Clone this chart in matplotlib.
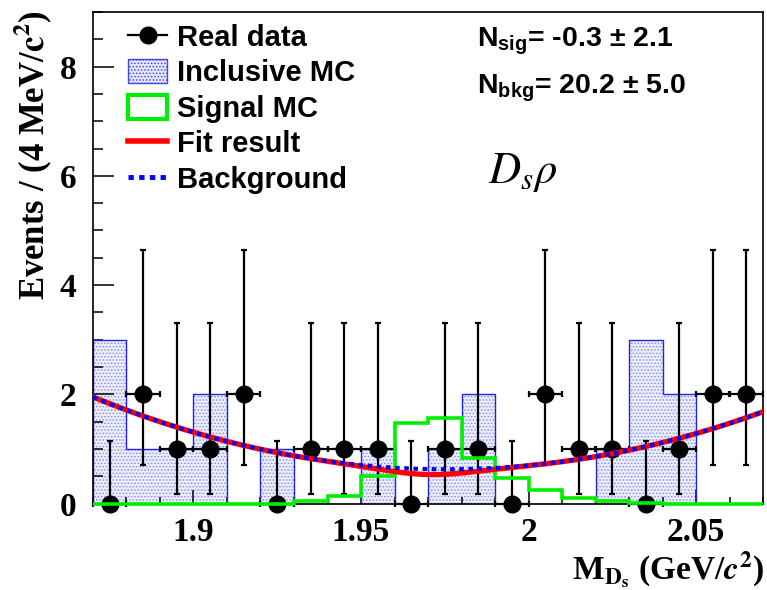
import numpy as np
import matplotlib
matplotlib.use('Agg')
import matplotlib.pyplot as plt
from matplotlib.lines import Line2D
from matplotlib.patches import Patch

# Бины по массе D_s (GeV/c^2)
bin_edges = np.round(np.arange(1.87, 2.0701, 0.01), 3)
bin_centers = (bin_edges[:-1] + bin_edges[1:]) / 2

# Реальные данные
data_counts = [0, 2, 1, 1, 2, 0, 1, 1, 1, 0, 1, 1, 0, 2, 1, 1, 0, 1, 2, 2]
# Пуассоновские ошибки (вниз, вверх) для 0, 1, 2 событий
poisson_err = {0: (0.0, 1.148), 1: (0.827, 2.300), 2: (1.292, 2.638)}

# Inclusive MC
inclusive_mc = [3, 1, 1, 2, 0, 1, 0, 0, 1, 0, 1, 2, 0, 0, 0, 1, 3, 2, 0, 0]

# Signal MC
signal_mc = [0, 0, 0, 0, 0, 0, 0.05, 0.13, 0.5, 1.47, 1.57, 0.84, 0.46, 0.24,
             0.1, 0.04, 0.01, 0, 0, 0]

# Фон: полином второй степени по t = (m - 1.97) / 0.1
bkg_coefs = [0.63, -0.135, 1.185]
n_sig = -0.3
sig_mean, sig_sigma = 1.97, 0.012

x_ticks = [1.9, 1.95, 2.0, 2.05]
x_tick_labels = ['1.9', '1.95', '2', '2.05']
y_ticks = [0, 2, 4, 6, 8]

plt.rcParams['mathtext.fontset'] = 'custom'
plt.rcParams['mathtext.rm'] = 'Liberation Sans:bold'
plt.rcParams['mathtext.bf'] = 'Liberation Sans:bold'
plt.rcParams['mathtext.it'] = 'Liberation Sans:italic:bold'
plt.rcParams['hatch.linewidth'] = 0.7

fig = plt.figure(figsize=(7.67, 5.90), dpi=100)
ax = fig.add_axes([93 / 767, 1 - 503.5 / 590, 670 / 767, 491.5 / 590])

# Inclusive MC: заливка точками + контур
ax.stairs(inclusive_mc, bin_edges, fill=True, facecolor='#eceefb',
          edgecolor='#8a90ee', hatch='.....', linewidth=0, zorder=1)
ax.stairs(inclusive_mc, bin_edges, color='#2020f0', linewidth=1.0,
          baseline=0, zorder=2)

# Данные с ошибками
err_lo = [poisson_err[c][0] for c in data_counts]
err_hi = [poisson_err[c][1] for c in data_counts]
ax.errorbar(bin_centers, data_counts, yerr=[err_lo, err_hi], xerr=0.005,
            fmt='o', color='black', markersize=12, elinewidth=1.6,
            capsize=2.5, capthick=1.6, zorder=3, clip_on=False)

# Signal MC
ax.stairs(signal_mc, bin_edges, color='#00ee00', linewidth=2.6,
          baseline=None, zorder=4, clip_on=False)

# Результат фита и фон
m = np.linspace(bin_edges[0], bin_edges[-1], 500)
t = (m - 1.97) / 0.1
bkg = bkg_coefs[0] + bkg_coefs[1] * t + bkg_coefs[2] * t ** 2
sig = n_sig * 0.01 / (np.sqrt(2 * np.pi) * sig_sigma) * \
    np.exp(-0.5 * ((m - sig_mean) / sig_sigma) ** 2)
ax.plot(m, bkg + sig, color='red', linewidth=3.8, zorder=5)
ax.plot(m, bkg, color='#0000ff', linewidth=3.0, dashes=(1.1, 1.1), zorder=6)

ax.set_xlim(bin_edges[0], bin_edges[-1])
ax.set_ylim(0, 9)

ax.set_xticks(x_ticks)
ax.set_xticklabels(x_tick_labels)
ax.set_xticks(bin_edges, minor=True)
ax.set_yticks(y_ticks)
ax.set_yticks(np.arange(0, 9.01, 0.5), minor=True)

ax.tick_params(which='both', direction='in', top=False, right=False,
               width=1.1, labelsize=24)
ax.tick_params(axis='x', which='major', length=10, pad=10)
ax.tick_params(axis='x', which='minor', length=5)
ax.tick_params(axis='y', which='major', length=15, pad=12)
ax.tick_params(axis='y', which='minor', length=7.5)
for lab in ax.get_xticklabels() + ax.get_yticklabels():
    lab.set_fontfamily('Liberation Serif')
    lab.set_fontweight('bold')
for sp in ax.spines.values():
    sp.set_linewidth(1.2)

# Подписи осей
fig.text(33 / 767, 1 - 10 / 590, r'Events / (4 MeV/$\mathbf{c^{2}}$)',
         rotation=90, ha='center', va='top', fontsize=25,
         fontfamily='Liberation Serif', fontweight='bold', math_fontfamily='stix')
fig.text(764 / 767, 1 - 580 / 590, r'M$_{\mathbf{D_s}}$ (GeV/$\mathbfit{c}^{\mathbf{2}}$)',
         ha='right', va='baseline', fontsize=24,
         fontfamily='Liberation Serif', fontweight='bold', math_fontfamily='stix')

# Легенда
handles = [
    Line2D([], [], color='black', marker='o', markersize=12, linewidth=1.6),
    Patch(facecolor='#e4e7fa', edgecolor='#4048f0', hatch='.....', linewidth=1),
    Patch(facecolor='white', edgecolor='#00ee00', linewidth=3),
    Line2D([], [], color='red', linewidth=4),
    Line2D([], [], color='#0000ff', linewidth=3.5, dashes=(1.1, 1.1)),
]
labels = ['Real data', 'Inclusive MC', 'Signal MC', 'Fit result', 'Background']
ax.legend(handles, labels, loc='upper left', bbox_to_anchor=(0.052, 0.976),
          frameon=False, borderpad=0, borderaxespad=0, handlelength=1.35,
          handleheight=0.9, handletextpad=0.35, labelspacing=0.25,
          prop={'family': 'Liberation Sans', 'weight': 'bold', 'size': 21})

# Результаты фита
ax.text(0.573, 0.929, r'N$_{\mathbf{sig}}$= -0.3 ± 2.1', transform=ax.transAxes,
        ha='left', va='baseline', fontsize=20.5, fontfamily='Liberation Sans',
        fontweight='bold')
ax.text(0.573, 0.835, r'N$_{\mathbf{bkg}}$= 20.2 ± 5.0', transform=ax.transAxes,
        ha='left', va='baseline', fontsize=20.5, fontfamily='Liberation Sans',
        fontweight='bold')
ax.text(0.590, 0.652, r'$D_s\rho$', transform=ax.transAxes, ha='left',
        va='baseline', fontsize=32, math_fontfamily='stix')

fig.savefig('out.png', dpi=100)
